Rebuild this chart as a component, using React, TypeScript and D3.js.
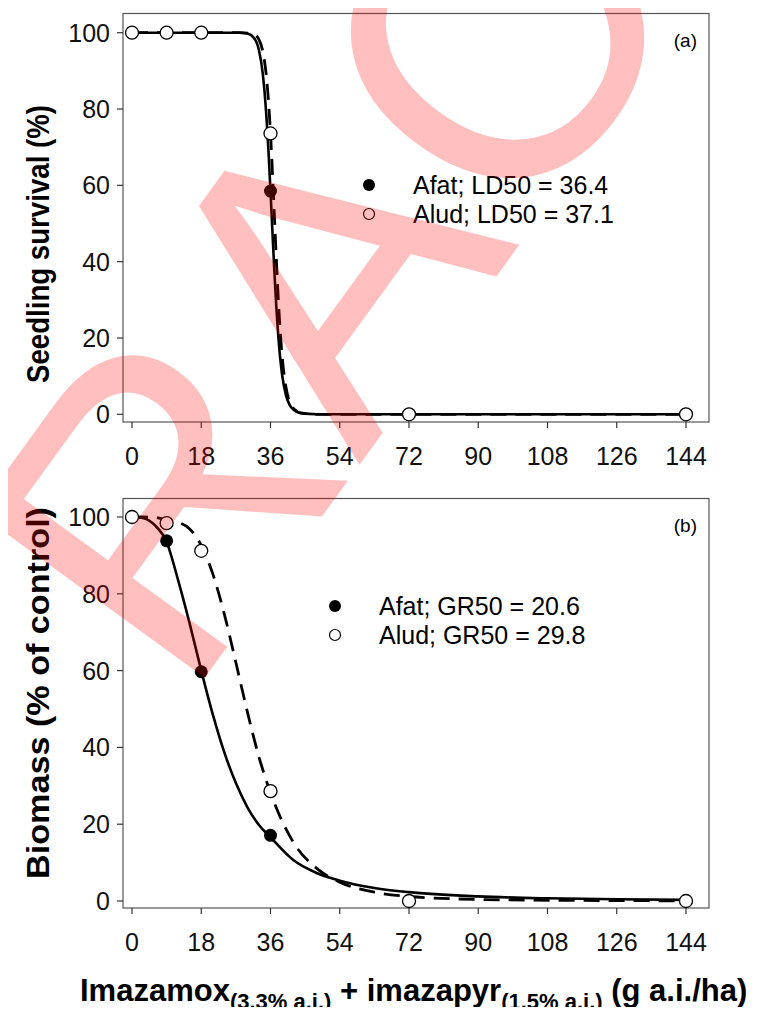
import React from "react";
import * as d3 from "d3";

// observed doses (g a.i./ha)
const doses = [0, 9, 18, 36, 72, 144];
const xTicks = [0, 18, 36, 54, 72, 90, 108, 126, 144];
const yTicks = [0, 20, 40, 60, 80, 100];

// (a) seedling survival
const survAfat = [100, 100, 100, 58.5, 0, 0];
const survAlud = [100, 100, 100, 73.6, 0, 0];
const fitDoseA = [0, 20, 28, 30, 32, 33, 34, 35, 35.5, 36, 36.5, 37, 37.5, 38, 39, 40, 41, 42, 44, 48, 144];
const fitSurvAfat = [100, 100, 100, 99.8, 98.2, 95.4, 89.2, 77.1, 68.5, 58.5, 47.9, 37.6, 28.4, 20.8, 10.5, 5.1, 2.4, 1.2, 0.3, 0, 0];
const fitSurvAlud = [100, 100, 100, 99.9, 99.4, 98.2, 95.1, 87.9, 81.8, 73.6, 63.5, 52.3, 41, 30.7, 15.5, 7.2, 3.2, 1.5, 0.3, 0, 0];

// (b) biomass
const bioAfat = [100, 93.8, 59.7, 17.1, 0, 0];
const bioAlud = [100, 98.4, 91.2, 28.6, 0, 0];
const fitDoseB = [0, 3, 6, 9, 12, 15, 18, 21, 24, 27, 30, 33, 36, 42, 48, 54, 63, 72, 90, 108, 126, 144];
const fitBioAfat = [100, 99.7, 97.8, 93.5, 83.5, 72.2, 60, 48.6, 38.7, 30.7, 24.4, 19.8, 16.6, 10.6, 7.3, 5.3, 3.4, 2.3, 1.2, 0.7, 0.45, 0.3];
const fitBioAlud = [100, 100, 99.9, 99.2, 98.6, 96.9, 92.6, 85.2, 74.7, 62.1, 49.2, 37.5, 28.2, 15.2, 8.5, 4.9, 2.3, 1.2, 0.4, 0.2, 0.1, 0.05];

const FONT = "'Liberation Sans', Arial, Helvetica, sans-serif";

const x = d3.scaleLinear().domain([0, 144]).range([132, 686]);

type PanelProps = {
  top: number;
  bottom: number;
  y0: number;
  y100: number;
  afat: number[];
  alud: number[];
  fitDose: number[];
  fitAfat: number[];
  fitAlud: number[];
  tag: string;
  legend: [string, string];
  legX: number;
  legY: number;
};

function Panel(p: PanelProps) {
  const left = 123;
  const right = 709;
  const y = d3.scaleLinear().domain([0, 100]).range([p.y0, p.y100]);
  const line = d3
    .line<number>()
    .x((_, i) => x(p.fitDose[i]))
    .y((d) => y(d))
    .curve(d3.curveMonotoneX);

  return (
    <g>
      <rect x={left} y={p.top} width={right - left} height={p.bottom - p.top} fill="none" stroke="#555" strokeWidth={1.2} />
      {yTicks.map((t) => (
        <g key={"y" + t}>
          <line x1={left - 6} x2={left} y1={y(t)} y2={y(t)} stroke="#333" strokeWidth={1.2} />
          <text x={left - 13} y={y(t) + 9} textAnchor="end" fontSize={25} fontFamily={FONT} fill="#111">
            {t}
          </text>
        </g>
      ))}
      {xTicks.map((t) => (
        <g key={"x" + t}>
          <line x1={x(t)} x2={x(t)} y1={p.bottom} y2={p.bottom + 6} stroke="#333" strokeWidth={1.2} />
          <text x={x(t)} y={p.bottom + 43} textAnchor="middle" fontSize={25} fontFamily={FONT} fill="#111">
            {t}
          </text>
        </g>
      ))}
      <path d={line(p.fitAlud) || ""} fill="none" stroke="#000" strokeWidth={2.8} strokeDasharray="16,9" />
      <path d={line(p.fitAfat) || ""} fill="none" stroke="#000" strokeWidth={2.6} />
      {doses.map((d, i) => (
        <circle key={"f" + d} cx={x(d)} cy={y(p.afat[i])} r={6.5} fill="#000" />
      ))}
      {doses.map((d, i) => (
        <circle key={"o" + d} cx={x(d)} cy={y(p.alud[i])} r={6.5} fill="#fff" stroke="#000" strokeWidth={1.3} />
      ))}
      <text x={right - 12} y={p.top + 33} textAnchor="end" fontSize={19} fontFamily={FONT}>
        {p.tag}
      </text>
      <circle cx={p.legX} cy={p.legY - 9} r={6} fill="#000" />
      <circle cx={p.legX} cy={p.legY + 20} r={5.5} fill="#fff" stroke="#000" strokeWidth={1.2} />
      <text x={p.legX + 44} y={p.legY} fontSize={25} fontFamily={FONT}>
        {p.legend[0]}
      </text>
      <text x={p.legX + 44} y={p.legY + 29} fontSize={25} fontFamily={FONT}>
        {p.legend[1]}
      </text>
    </g>
  );
}

export default function App() {
  return (
    <svg width={757} height={1015} style={{ display: "block", margin: "-8px" }}>
      <rect width={757} height={1015} fill="#fff" />
      <Panel
        top={13.5}
        bottom={422}
        y0={414.3}
        y100={32.7}
        afat={survAfat}
        alud={survAlud}
        fitDose={fitDoseA}
        fitAfat={fitSurvAfat}
        fitAlud={fitSurvAlud}
        tag="(a)"
        legend={["Afat; LD50 = 36.4", "Alud; LD50 = 37.1"]}
        legX={369}
        legY={194}
      />
      <Panel
        top={498.5}
        bottom={908}
        y0={901}
        y100={517}
        afat={bioAfat}
        alud={bioAlud}
        fitDose={fitDoseB}
        fitAfat={fitBioAfat}
        fitAlud={fitBioAlud}
        tag="(b)"
        legend={["Afat; GR50 = 20.6", "Alud; GR50 = 29.8"]}
        legX={335}
        legY={615}
      />
      <text
        transform="translate(49,244) rotate(-90)"
        textAnchor="middle"
        fontSize={32}
        fontWeight="bold"
        fontFamily={FONT}
        textLength={278}
        lengthAdjust="spacingAndGlyphs"
      >
        Seedling survival (%)
      </text>
      <text
        transform="translate(49,693) rotate(-90)"
        textAnchor="middle"
        fontSize={32}
        fontWeight="bold"
        fontFamily={FONT}
        textLength={372}
        lengthAdjust="spacingAndGlyphs"
      >
        Biomass (% of control)
      </text>
      <text x={80} y={1001} fontSize={31} fontWeight="bold" fontFamily={FONT}>
        Imazamox
        <tspan fontSize={22} dy={8}>(3.3% a.i.)</tspan>
        <tspan dy={-8}> + imazapyr</tspan>
        <tspan fontSize={22} dy={8}>(1.5% a.i.)</tspan>
        <tspan dy={-8}> (g a.i./ha)</tspan>
      </text>
      {/* watermark */}
      <text
        transform="translate(185,705) rotate(-54)"
        fontSize={410}
        fontFamily={FONT}
        fill="#f00"
        fillOpacity={0.25}
      >
        RAC
      </text>
    </svg>
  );
}
